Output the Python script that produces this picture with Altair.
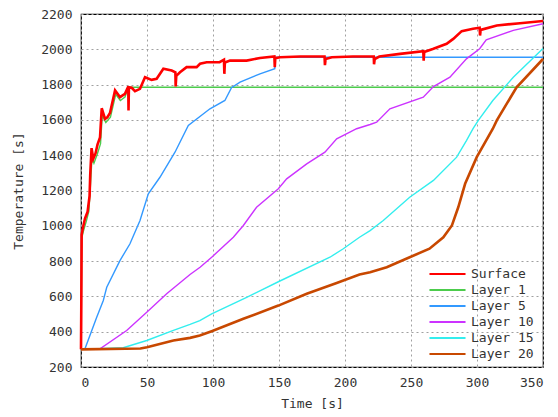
import altair as alt
import pandas as pd

series_names = ["Surface", "Layer 1", "Layer 5", "Layer 10", "Layer 15", "Layer 20"]
series_colors = ["#ff0000", "#4ccc4c", "#3399ff", "#cc33ff", "#33eeee", "#c84800"]
thick_series = ["Surface", "Layer 20"]
thin_series = ["Layer 1", "Layer 5", "Layer 10", "Layer 15"]

surface_t = [0, 0.2, 0.5, 1.5, 3, 5, 6.5, 7, 8, 9.3, 11, 12.5, 14.4, 15.7, 18.2, 20, 22,
             25.8, 29.5, 33.3, 35.8, 36.0, 36.3, 38.4, 40.9, 44.7, 48.5, 53.5, 57.3,
             62.4, 68.7, 71.5, 71.7, 72.2, 75, 80, 87.6, 90.2, 95.2, 105, 108.3, 108.6,
             109, 112.9, 125.5, 135.6, 146.5, 146.8, 147.2, 150.8, 166, 184.5, 184.8,
             185.3, 190, 206, 221.8, 222, 222.5, 226, 241.7, 259.3, 259.6, 260, 267, 277,
             282, 288.4, 297, 302, 302.3, 302.8, 315, 332.6, 350]
surface_v = [300, 520, 950, 990, 1040, 1080, 1170, 1290, 1440, 1380, 1410, 1460, 1500, 1666,
             1606, 1615, 1640, 1767, 1729, 1748, 1789, 1653, 1785, 1782, 1763, 1776, 1842,
             1827, 1833, 1890, 1880, 1870, 1789, 1850, 1870, 1899, 1899, 1918, 1927, 1927,
             1941, 1861, 1925, 1936, 1936, 1951, 1960, 1899, 1950, 1955, 1959, 1959, 1910,
             1945, 1955, 1959, 1959, 1915, 1945, 1959, 1974, 1989, 1936, 1985, 2003, 2031,
             2059, 2103, 2116, 2122, 2078, 2110, 2135, 2148, 2160]

layer1_t = [0, 0.3, 0.6, 2, 4, 6, 7.2, 8.3, 9.8, 12.3, 14.8, 16.1, 18.8, 22.3, 26.3, 29.8,
            33.3, 36, 350]
layer1_v = [300, 580, 930, 975, 1025, 1085, 1235, 1385, 1355, 1405, 1465, 1625, 1585, 1615,
            1745, 1710, 1730, 1785, 1785]

layer5_t = [0, 3, 11.9, 16.9, 19.5, 29.5, 37.1, 44.7, 51, 59.8, 71.2, 81.3, 97.7, 109,
            114, 120.5, 135.6, 146.8, 147.2, 350]
layer5_v = [300, 303, 482, 577, 652, 803, 898, 1030, 1181, 1275, 1417, 1568, 1663, 1710,
            1782, 1814, 1861, 1890, 1955, 1955]

layer10_t = [0, 14.4, 34.6, 49.8, 64.9, 82.6, 90.2, 99, 115.4, 123, 133, 149.5, 155.8, 171,
             184.8, 193.7, 208.8, 219, 224, 234, 259.3, 267, 279.5, 292, 302, 307, 327.5, 350]
layer10_v = [300, 303, 407, 510, 615, 724, 765, 822, 935, 1002, 1105, 1210, 1266, 1351,
             1417, 1493, 1550, 1574, 1587, 1663, 1729, 1789, 1842, 1946, 2003, 2054, 2107, 2145]

layer15_t = [0, 32, 49.8, 70, 82.6, 90, 99, 125.5, 149.5, 188.6, 198.7, 211, 219, 229, 249,
             267, 284.6, 292, 297, 301, 312, 327.5, 350]
layer15_v = [300, 309, 350, 407, 441, 463, 501, 595, 683, 822, 870, 935, 973, 1030, 1162,
             1257, 1389, 1483, 1550, 1597, 1710, 1842, 2005]

layer20_t = [0, 45, 50, 70, 82.6, 90, 99, 123, 149.5, 171, 193.7, 211, 219, 231.6, 249, 264,
             274.5, 281, 285.8, 291, 299.8, 312, 315, 330, 350]
layer20_v = [300, 305, 312, 350, 365, 378, 403, 473, 548, 615, 676, 724, 737, 765, 822, 870,
             935, 1002, 1105, 1238, 1389, 1550, 1597, 1785, 1945]

x_ticks = [0, 50, 100, 150, 200, 250, 300, 350]
y_ticks = [200, 400, 600, 800, 1000, 1200, 1400, 1600, 1800, 2000, 2200]

all_t = [surface_t, layer1_t, layer5_t, layer10_t, layer15_t, layer20_t]
all_v = [surface_v, layer1_v, layer5_v, layer10_v, layer15_v, layer20_v]

rows = []
for name, ts, vs in zip(series_names, all_t, all_v):
    for i, (t, v) in enumerate(zip(ts, vs)):
        rows.append({"series": name, "t": t, "T": v, "i": i})
df = pd.DataFrame(rows)

FONT = "DejaVu Sans Mono"

x_enc = alt.X("t:Q", title="Time [s]",
              scale=alt.Scale(domain=[0, 350], nice=False, zero=False),
              axis=alt.Axis(values=x_ticks, format="d", ticks=False, labelPadding=9,
                            titlePadding=8))
y_enc = alt.Y("T:Q", title="Temperature [s]",
              scale=alt.Scale(domain=[200, 2200], nice=False, zero=False),
              axis=alt.Axis(values=y_ticks, format="d", ticks=False, labelPadding=9,
                            titlePadding=15))
color_enc = alt.Color("series:N",
                      scale=alt.Scale(domain=series_names, range=series_colors),
                      sort=series_names,
                      legend=alt.Legend(title=None, orient="none", legendX=344, legendY=249,
                                        symbolType="stroke", symbolSize=1300,
                                        symbolStrokeWidth=2.2,
                                        labelFont=FONT, labelFontSize=13,
                                        labelColor="#333333", rowPadding=0,
                                        clipHeight=16, padding=3))

base = alt.Chart(df).encode(x=x_enc, y=y_enc, color=color_enc, order=alt.Order("i:Q"))

thin = base.mark_line(strokeWidth=1.4).transform_filter(
    alt.FieldOneOfPredicate(field="series", oneOf=thin_series))
thick = base.mark_line(strokeWidth=2.6).transform_filter(
    alt.FieldOneOfPredicate(field="series", oneOf=thick_series))

chart = alt.layer(thin, thick).properties(
    width=462, height=353,
    autosize=alt.AutoSizeParams(type="none"),
    padding={"left": 81, "top": 14, "right": 15, "bottom": 50},
    background="white",
).configure_view(
    stroke="#000000", strokeWidth=1.2
).configure_axis(
    labelFont=FONT, labelFontSize=13, labelColor="#333333",
    titleFont=FONT, titleFontSize=13, titleFontWeight="normal", titleColor="#333333",
    grid=True, gridColor="#a0a0a0", gridDash=[2, 3], gridWidth=1,
    domain=False,
)

chart.save("out.html", embed_options={"renderer": "svg", "actions": False})
